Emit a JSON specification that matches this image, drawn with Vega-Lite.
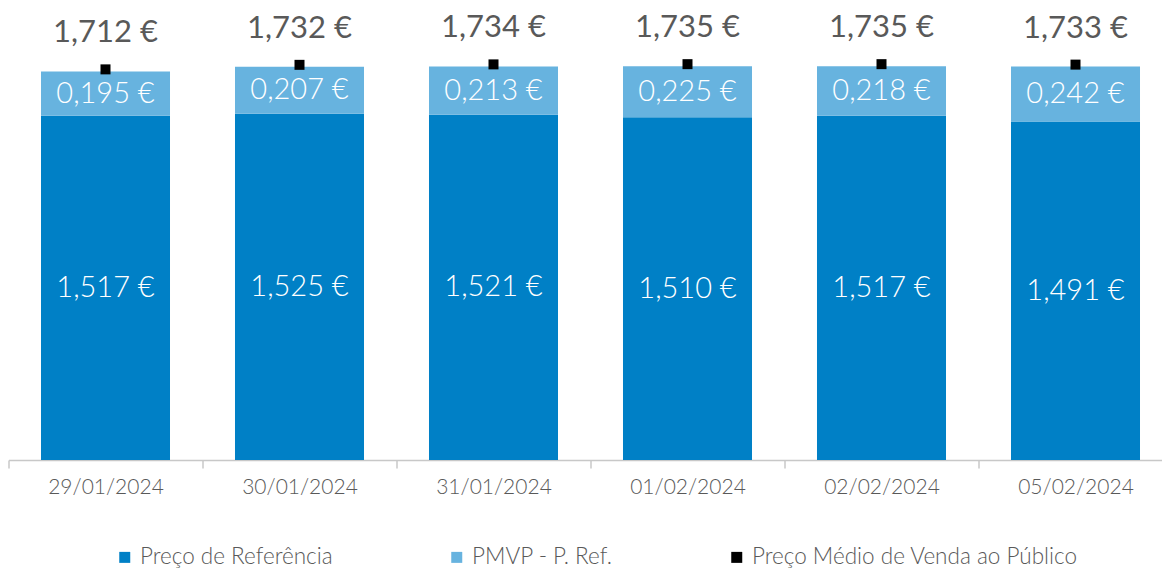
{
  "$schema": "https://vega.github.io/schema/vega-lite/v6.json",
  "autosize": "none",
  "width": 1164,
  "height": 454,
  "padding": {"left": 8.5, "top": 6, "right": 0, "bottom": 110},
  "background": "white",
  "config": {
    "view": {"stroke": null},
    "font": "Lato",
    "locale": {
      "number": {"decimal": ",", "thousands": ".", "grouping": [3], "currency": ["", " €"]}
    }
  },
  "data": {
    "values": [
      {"date": "29/01/2024", "ref": 1.517, "diff": 0.195, "pmvp": 1.712},
      {"date": "30/01/2024", "ref": 1.525, "diff": 0.207, "pmvp": 1.732},
      {"date": "31/01/2024", "ref": 1.521, "diff": 0.213, "pmvp": 1.734},
      {"date": "01/02/2024", "ref": 1.510, "diff": 0.225, "pmvp": 1.735},
      {"date": "02/02/2024", "ref": 1.517, "diff": 0.218, "pmvp": 1.735},
      {"date": "05/02/2024", "ref": 1.491, "diff": 0.242, "pmvp": 1.733}
    ]
  },
  "transform": [
    {"calculate": "datum.ref / 2", "as": "mid1"},
    {"calculate": "(datum.ref + datum.pmvp) / 2", "as": "mid2"}
  ],
  "encoding": {
    "x": {
      "field": "date", "type": "nominal", "sort": null,
      "scale": {"paddingInner": 0, "paddingOuter": 0},
      "axis": {
        "title": null, "labelAngle": 0, "labelFontSize": 21, "labelFontWeight": 300, "labelColor": "#595959",
        "labelPadding": 8, "domainColor": "#C8C8C8", "domainWidth": 1.5,
        "tickColor": "#C8C8C8", "tickWidth": 1.5, "tickSize": 8, "tickBand": "extent"
      }
    }
  },
  "layer": [
    {
      "mark": {"type": "bar", "width": {"band": 0.665}},
      "encoding": {
        "y": {"field": "ref", "type": "quantitative", "scale": {"domain": [0, 2]}, "axis": null},
        "color": {
          "datum": "Preço de Referência",
          "type": "nominal",
          "scale": {
            "domain": ["Preço de Referência", "PMVP - P. Ref.", "Preço Médio de Venda ao Público"],
            "range": ["#0080C6", "#67B3DF", "#000000"]
          },
          "legend": {
            "title": null, "orient": "none", "direction": "horizontal", "columns": 3,
            "legendX": 105, "legendY": 540, "symbolType": "square", "symbolSize": 121,
            "labelFontSize": 22.5, "labelFontWeight": 300, "labelColor": "#595959", "columnPadding": 112,
            "symbolStrokeWidth": 0, "labelOffset": 4, "labelLimit": 400
          }
        }
      }
    },
    {
      "mark": {"type": "bar", "width": {"band": 0.665}},
      "encoding": {
        "y": {"field": "pmvp", "type": "quantitative"},
        "y2": {"field": "ref"},
        "color": {"datum": "PMVP - P. Ref.", "type": "nominal"}
      }
    },
    {
      "mark": {"type": "text", "color": "white", "fontSize": 29, "fontWeight": 300},
      "encoding": {
        "y": {"field": "mid1", "type": "quantitative"},
        "text": {"field": "ref", "type": "quantitative", "format": "$.3f"}
      }
    },
    {
      "mark": {"type": "text", "color": "white", "fontSize": 29, "fontWeight": 300},
      "encoding": {
        "y": {"field": "mid2", "type": "quantitative"},
        "text": {"field": "diff", "type": "quantitative", "format": "$.3f"}
      }
    },
    {
      "mark": {"type": "point", "shape": "square", "filled": true, "size": 100, "opacity": 1, "yOffset": -2},
      "encoding": {
        "y": {"field": "pmvp", "type": "quantitative"},
        "color": {"datum": "Preço Médio de Venda ao Público", "type": "nominal"}
      }
    },
    {
      "mark": {"type": "text", "color": "#595959", "fontSize": 31, "fontWeight": 400, "dy": -38},
      "encoding": {
        "y": {"field": "pmvp", "type": "quantitative"},
        "text": {"field": "pmvp", "type": "quantitative", "format": "$.3f"}
      }
    }
  ]
}
